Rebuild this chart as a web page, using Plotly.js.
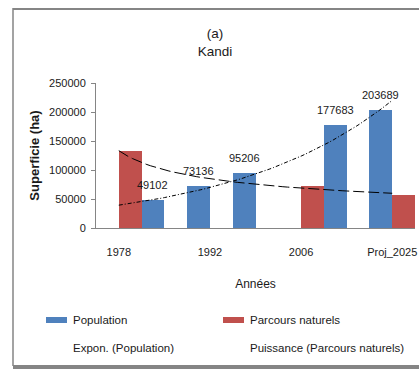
<!DOCTYPE html>
<html>
<head>
<meta charset="utf-8">
<script src="https://cdn.plot.ly/plotly-3.0.1.min.js"></script>
<style>
  html, body { margin: 0; padding: 0; background: #ffffff; }
  #chart { width: 419px; height: 369px; }
</style>
</head>
<body>
<div id="chart"></div>
<script>
// Category slots along the x axis (labels shown on every other slot)
const slots = [1, 2, 3, 4, 5, 6, 7];
const tickSlots = [1, 3, 5, 7];
const tickLabels = ['1978', '1992', '2006', 'Proj_2025'];

// Surface (ha) per slot
const population = [null, 49102, 73136, 95206, null, 177683, 203689];
const parcours = [132000, null, null, null, 73000, null, 57000];

const seriesNames = ['Population', 'Parcours naturels'];
const trendNames = ['Expon. (Population)', 'Puissance (Parcours naturels)'];

const BLUE = '#4F81BD';
const RED = '#C0504D';
const TXT = '#1a1a1a';
const FONT = 'Liberation Sans, Arial, sans-serif';

// Least-squares fits on the non-empty points
function pairs(xs, ys) {
  const p = [];
  xs.forEach((x, i) => { if (ys[i] != null) p.push([x, ys[i]]); });
  return p;
}
function linfit(p) {
  const n = p.length;
  const mx = p.reduce((s, q) => s + q[0], 0) / n;
  const my = p.reduce((s, q) => s + q[1], 0) / n;
  let sxy = 0, sxx = 0;
  p.forEach(q => { sxy += (q[0] - mx) * (q[1] - my); sxx += (q[0] - mx) ** 2; });
  const b = sxy / sxx;
  return { a: my - b * mx, b: b };
}
const expFit = linfit(pairs(slots, population).map(q => [q[0], Math.log(q[1])]));
const powFit = linfit(pairs(slots, parcours).map(q => [Math.log(q[0]), Math.log(q[1])]));

const trendX = [];
for (let x = slots[0]; x <= slots[slots.length - 1] + 1e-9; x += 0.1) trendX.push(x);
const expY = trendX.map(x => Math.exp(expFit.a + expFit.b * x));
const powY = trendX.map(x => Math.exp(powFit.a) * Math.pow(x, powFit.b));

// Plot-area geometry helpers (pixel -> paper)
const W = 419, H = 369;
const M = { l: 96, r: 4, t: 83, b: 141 };
const PW = W - M.l - M.r, PH = H - M.t - M.b;
const px = v => (v - M.l) / PW;
const py = v => (H - M.b - v) / PH;

const traces = [
  { type: 'bar', x: slots, y: population, name: seriesNames[0],
    marker: { color: BLUE }, hoverinfo: 'skip' },
  { type: 'bar', x: slots, y: parcours, name: seriesNames[1],
    marker: { color: RED }, hoverinfo: 'skip' },
  { type: 'scatter', mode: 'lines', x: trendX, y: expY, name: trendNames[0],
    line: { color: '#000', width: 1, dash: '4px,2px,1px,2px' }, hoverinfo: 'skip' },
  { type: 'scatter', mode: 'lines', x: trendX, y: powY, name: trendNames[1],
    line: { color: '#000', width: 1, dash: '11px,4px' }, hoverinfo: 'skip' }
];

// Value labels above the population bars (left bar of each group)
const annotations = [];
slots.forEach((s, i) => {
  if (population[i] == null) return;
  annotations.push({
    x: s - 0.25, y: population[i], xref: 'x', yref: 'y',
    text: String(population[i]), showarrow: false,
    yanchor: 'bottom', yshift: 7,
    font: { family: FONT, size: 11, color: TXT }
  });
});

// Legend block
const legendRows = [320, 348];
const legendCols = [71, 248];
const legendItems = [
  { text: seriesNames[0], col: 0, row: 0, swatch: BLUE },
  { text: seriesNames[1], col: 1, row: 0, swatch: RED },
  { text: trendNames[0], col: 0, row: 1 },
  { text: trendNames[1], col: 1, row: 1 }
];
const shapes = [];
legendItems.forEach(it => {
  annotations.push({
    x: px(legendCols[it.col]), y: py(legendRows[it.row]), xref: 'paper', yref: 'paper',
    text: it.text, showarrow: false, xanchor: 'left', yanchor: 'middle',
    font: { family: FONT, size: 11.5, color: TXT }
  });
  if (it.swatch) {
    const x1 = legendCols[it.col] - 4;
    shapes.push({
      type: 'rect', xref: 'paper', yref: 'paper',
      x0: px(x1 - 21), x1: px(x1), y0: py(legendRows[it.row] - 3), y1: py(legendRows[it.row] + 3),
      fillcolor: it.swatch, line: { width: 0 }
    });
  }
});

// Frame around the chart
const FRAME = '#858585';
shapes.push(
  { type: 'line', xref: 'paper', yref: 'paper', x0: px(13), x1: px(419), y0: py(9), y1: py(9),
    line: { color: FRAME, width: 2 } },
  { type: 'line', xref: 'paper', yref: 'paper', x0: px(13), x1: px(13), y0: py(8), y1: py(366),
    line: { color: FRAME, width: 1.5 } },
  { type: 'rect', xref: 'paper', yref: 'paper', x0: px(13), x1: px(419), y0: py(365), y1: py(369),
    fillcolor: FRAME, line: { width: 0 } }
);

const layout = {
  width: W, height: H,
  margin: M,
  paper_bgcolor: '#ffffff', plot_bgcolor: '#ffffff',
  font: { family: FONT, size: 11, color: TXT },
  showlegend: false,
  barmode: 'group', bargap: 0, bargroupgap: 0,
  title: {
    text: '(a)<br>Kandi',
    x: 215 / W, xanchor: 'center', xref: 'container',
    y: 1 - 38 / H, yanchor: 'middle', yref: 'container',
    font: { family: FONT, size: 13.5, color: TXT }
  },
  xaxis: {
    type: 'linear', range: [0.5, 7.5],
    tickvals: tickSlots, ticktext: tickLabels,
    ticks: '', showgrid: false, zeroline: false,
    showline: true, linecolor: FRAME, linewidth: 1,
    ticklabelstandoff: 14,
    tickfont: { family: FONT, size: 11, color: TXT },
    title: { text: 'Années', standoff: 22, font: { family: FONT, size: 12, color: TXT } }
  },
  yaxis: {
    range: [0, 250000], tickvals: [0, 50000, 100000, 150000, 200000, 250000],
    ticktext: ['0', '50000', '100000', '150000', '200000', '250000'],
    ticks: 'outside', ticklen: 4, tickcolor: FRAME,
    showgrid: false, zeroline: false,
    showline: true, linecolor: FRAME, linewidth: 1,
    ticklabelstandoff: 3,
    tickfont: { family: FONT, size: 11, color: TXT },
    title: { text: 'Superficie (ha)', standoff: 6, font: { family: FONT, size: 13, color: TXT, weight: 'bold' } }
  },
  annotations: annotations,
  shapes: shapes
};

Plotly.newPlot('chart', traces, layout, { staticPlot: true, displayModeBar: false });
</script>
</body>
</html>
